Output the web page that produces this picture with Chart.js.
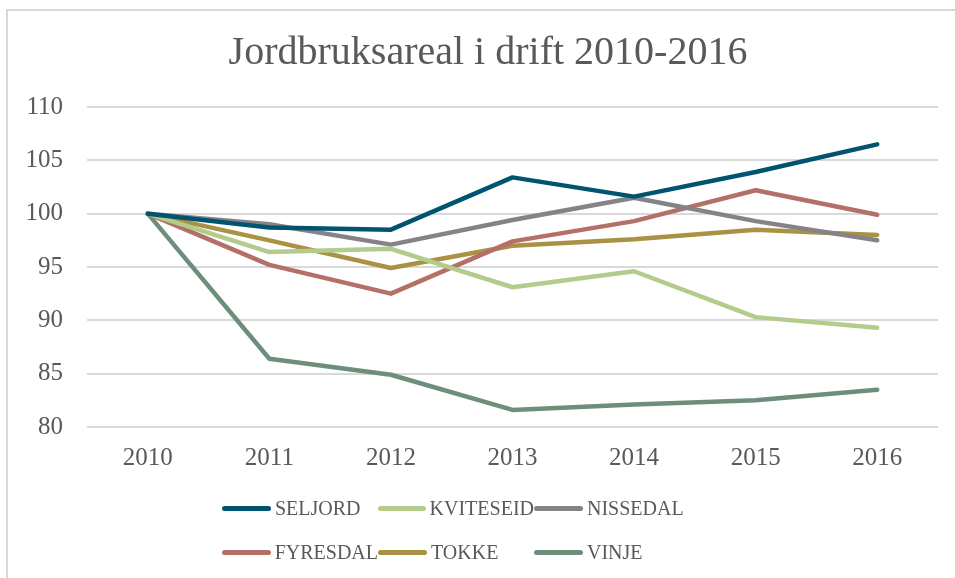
<!DOCTYPE html>
<html>
<head>
<meta charset="utf-8">
<script src="https://cdn.jsdelivr.net/npm/chart.js@4/dist/chart.umd.min.js"></script>
<style>
  html, body { margin: 0; padding: 0; background: #fff; overflow: hidden; }
  #wrap { position: relative; width: 955px; height: 578px; overflow: hidden; }
  #frame { position: absolute; left: 6px; top: 9px; width: 1200px; height: 1200px; border: 2px solid #d9d9d9; box-sizing: border-box; }
  #c { position: absolute; left: 0; top: 0; }
  #title { position: absolute; left: 0; width: 976px; top: 27px; text-align: center; font-family: "Liberation Serif", serif; font-size: 40px; line-height: 48px; color: #595959; white-space: nowrap; }
  #legend { position: absolute; left: 222px; top: 490px; display: grid; grid-template-columns: 156px 156px 156px; row-gap: 8px; font-family: "Liberation Serif", serif; font-size: 20px; color: #595959; }
  .item { display: flex; align-items: center; height: 36px; }
  .swatch { width: 49px; height: 5px; border-radius: 3px; margin-right: 4px; }
</style>
</head>
<body>
<div id="wrap">
  <div id="frame"></div>
  <canvas id="c" width="955" height="578"></canvas>
  <div id="title">Jordbruksareal i drift 2010-2016</div>
  <div id="legend"></div>
</div>
<script>
const years = ["2010", "2011", "2012", "2013", "2014", "2015", "2016"];
const seriesNames = ["SELJORD", "KVITESEID", "NISSEDAL", "FYRESDAL", "TOKKE", "VINJE"];
const seljord   = [100, 98.7, 98.5, 103.4, 101.6, 103.9, 106.5];
const kviteseid = [100, 96.4, 96.7, 93.1, 94.6, 90.3, 89.3];
const nissedal  = [100, 99.0, 97.1, 99.4, 101.5, 99.3, 97.5];
const fyresdal  = [100, 95.2, 92.5, 97.4, 99.3, 102.2, 99.9];
const tokke     = [100, 97.5, 94.9, 97.0, 97.6, 98.5, 98.0];
const vinje     = [100, 86.4, 84.9, 81.6, 82.1, 82.5, 83.5];
const colors = ["#005470", "#b3cb8b", "#858387", "#b46f66", "#a99243", "#6e8e7c"];
const yTicks = [80, 85, 90, 95, 100, 105, 110];

const values = [seljord, kviteseid, nissedal, fyresdal, tokke, vinje];
const datasets = seriesNames.map((n, i) => ({
  label: n,
  data: values[i],
  borderColor: colors[i],
  backgroundColor: colors[i],
  borderWidth: 4.5,
  pointRadius: 0,
  tension: 0,
  borderCapStyle: 'round',
  borderJoinStyle: 'round'
}));

const font = "'Liberation Serif', serif";
const chart = new Chart(document.getElementById('c'), {
  type: 'line',
  data: { labels: years, datasets: datasets },
  options: {
    responsive: false,
    animation: false,
    layout: { padding: { left: 0, right: 17, top: 107, bottom: 89 } },
    plugins: {
      legend: { display: false },
      tooltip: { enabled: false },
      title: { display: false }
    },
    scales: {
      x: {
        offset: true,
        grid: { display: false, drawTicks: false },
        border: { display: false },
        ticks: { color: '#595959', font: { family: font, size: 25 }, padding: 16 }
      },
      y: {
        min: 80, max: 110,
        afterFit: (s) => { s.width = 87; },
        afterBuildTicks: (s) => { s.ticks = yTicks.map(v => ({ value: v })); },
        grid: { color: '#d9d9d9', lineWidth: 2, drawTicks: false },
        border: { display: false },
        ticks: { color: '#595959', font: { family: font, size: 25 }, padding: 24 }
      }
    }
  }
});

const leg = document.getElementById('legend');
chart.data.datasets.forEach(ds => {
  const it = document.createElement('div');
  it.className = 'item';
  const sw = document.createElement('div');
  sw.className = 'swatch';
  sw.style.background = ds.borderColor;
  const tx = document.createElement('span');
  tx.textContent = ds.label;
  it.appendChild(sw); it.appendChild(tx);
  leg.appendChild(it);
});
</script>
</body>
</html>
